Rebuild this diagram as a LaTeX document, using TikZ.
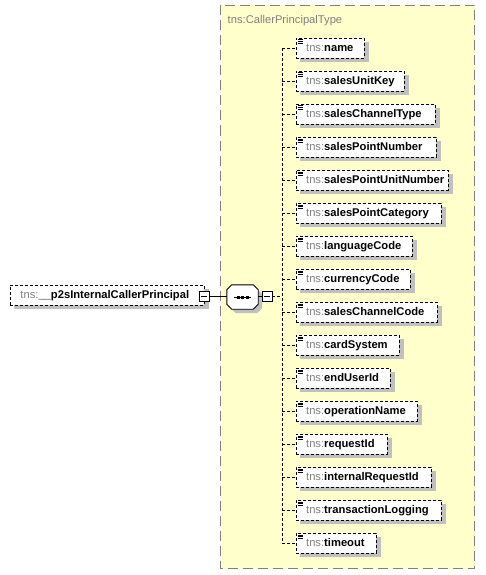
\documentclass[tikz,border=0pt]{standalone}
\usepackage{fontspec}
\setmainfont{Liberation Sans}
\definecolor{tnsgray}{RGB}{128,128,128}
\definecolor{shadowgray}{RGB}{192,192,192}
\definecolor{boxyellow}{RGB}{255,255,204}
\definecolor{framegray}{RGB}{128,128,128}
\newcommand{\tnsel}[1]{{\color{tnsgray}tns:}\textbf{#1}}
\pgfdeclarelayer{bglayer}
\pgfdeclarelayer{shadlayer}
\pgfsetlayers{bglayer,shadlayer,main}
\begin{document}
\begin{tikzpicture}[x=1pt,y=-1pt,
  every node/.style={font=\fontsize{11.2}{13}\selectfont},
  framebox/.style={fill=boxyellow, draw=framegray, line width=1.3pt, dash pattern=on 10pt off 5pt},
  elem/.style={draw=black, line width=0.9pt, dash pattern=on 3pt off 2pt, fill=white,
    anchor=west, inner xsep=0pt, inner ysep=0pt, minimum height=20pt,
    text height=9pt, text depth=2.4pt, align=left},
  shadowfill/.style={fill=shadowgray},
  conn/.style={draw=black, line width=0.9pt, dash pattern=on 3pt off 2pt},
  solidline/.style={draw=black, line width=0.9pt},
  icon/.style={draw=black, line width=0.7pt},
  minusbox/.style={draw=black, line width=0.9pt, fill=white, minimum size=10pt, inner sep=0pt,
    path picture={\draw[line width=0.9pt] ([xshift=2pt]path picture bounding box.west) -- ([xshift=-2pt]path picture bounding box.east);}},
  seqbox/.style={minimum width=31pt, minimum height=24pt, inner sep=0pt, draw=none}
]
\useasboundingbox (0,0) rectangle (485,575);

% type frame
\begin{pgfonlayer}{bglayer}
\path[framebox] (220.5,5.5) rectangle (474.5,568.5);
\end{pgfonlayer}
\node[anchor=base west, inner sep=0pt, text=tnsgray] (title) at (227.5,23.3) {tns:CallerPrincipalType};

% vertical connector
\coordinate (vtop) at (282,48);
\coordinate (vbot) at (282,543);
\draw[conn] (vtop) -- (vbot);

% child elements
\foreach \nm/\w [count=\i] in {name/68, salesUnitKey/108, salesChannelType/139, salesPointNumber/140,
  salesPointUnitNumber/152, salesPointCategory/145, languageCode/116, currencyCode/114,
  salesChannelCode/141, cardSystem/103, endUserId/94, operationName/121, requestId/91,
  internalRequestId/135, transactionLogging/145, timeout/80} {
  \node[elem, text width=\w pt] (e\i) at (296,{48+33*(\i-1)}) {\hspace*{9.7pt}\mbox{\tnsel{\nm}}};
  \begin{pgfonlayer}{shadlayer}
  \fill[shadowfill] ([shift={(4,4)}]e\i.north west) rectangle ([shift={(4,4)}]e\i.south east);
  \end{pgfonlayer}
  \draw[icon] ([shift={(1.7,2.3)}]e\i.north west) -- ++(5,0);
  \draw[icon] ([shift={(1.7,4.2)}]e\i.north west) -- ++(5,0);
  \draw[icon] ([shift={(1.7,6.1)}]e\i.north west) -- ++(5,0);
  \draw[conn] (e\i.west -| vtop) -- (e\i.west);
}

% root element
\node[elem, text width=194pt] (root) at (10,295) {\hspace*{10pt}\mbox{\tnsel{\_\_p2sInternalCallerPrincipal}}};
\begin{pgfonlayer}{shadlayer}
\fill[shadowfill] ([shift={(4,4)}]root.north west) rectangle ([shift={(4,4)}]root.south east);
\end{pgfonlayer}
\node[minusbox] (rootminus) at (204,296) {};

% sequence compositor
\node[seqbox] (seq) at (242.5,297) {};
\begin{pgfonlayer}{shadlayer}
\fill[shadowfill] ([shift={(9,4)}]seq.north west) -- ([shift={(-1,4)}]seq.north east) -- ([shift={(4,9)}]seq.north east)
  -- ([shift={(4,-1)}]seq.south east) -- ([shift={(-1,4)}]seq.south east) -- ([shift={(9,4)}]seq.south west)
  -- ([shift={(4,-1)}]seq.south west) -- ([shift={(4,9)}]seq.north west) -- cycle;
\end{pgfonlayer}
\draw[solidline, fill=white] ([shift={(5,0)}]seq.north west) -- ([shift={(-5,0)}]seq.north east) -- ([shift={(0,5)}]seq.north east)
  -- ([shift={(0,-5)}]seq.south east) -- ([shift={(-5,0)}]seq.south east) -- ([shift={(5,0)}]seq.south west)
  -- ([shift={(0,-5)}]seq.south west) -- ([shift={(0,5)}]seq.north west) -- cycle;
\draw[solidline] ([shift={(-8.5,0)}]seq.center) -- ([shift={(8.5,0)}]seq.center);
\foreach \dx in {-4.5,0,4.5} {
  \fill[black] ([shift={(\dx-1.5,-1.5)}]seq.center) rectangle ([shift={(\dx+1.5,1.5)}]seq.center);
}
\node[minusbox] (seqminus) at (267,296) {};

\draw[solidline] (rootminus.east) -- (rootminus.east -| seq.west);
\draw[solidline] (seq.east |- seqminus.west) -- (seqminus.west);
\draw[conn] (seqminus.east) -- (seqminus.east -| vtop);
\end{tikzpicture}
\end{document}
